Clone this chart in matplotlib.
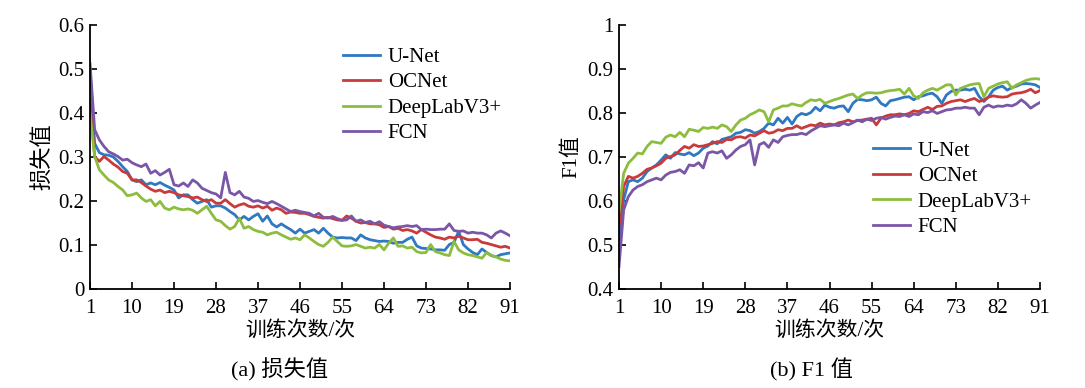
import matplotlib
matplotlib.use("Agg")
import matplotlib.pyplot as plt
from matplotlib.ticker import FixedLocator

epochs = list(range(1, 92))
series_names = ["U-Net", "OCNet", "DeepLabV3+", "FCN"]

loss_unet = [0.500, 0.331, 0.310, 0.305, 0.304, 0.300, 0.290, 0.278, 0.267, 0.248,
             0.244, 0.248, 0.237, 0.241, 0.237, 0.242, 0.236, 0.231, 0.225, 0.207,
             0.214, 0.214, 0.203, 0.195, 0.199, 0.203, 0.186, 0.189, 0.189, 0.184,
             0.176, 0.169, 0.157, 0.165, 0.157, 0.165, 0.171, 0.154, 0.166, 0.148,
             0.141, 0.148, 0.141, 0.135, 0.127, 0.136, 0.127, 0.131, 0.135, 0.127,
             0.138, 0.127, 0.118, 0.116, 0.117, 0.116, 0.116, 0.110, 0.123, 0.116,
             0.112, 0.110, 0.108, 0.109, 0.108, 0.104, 0.106, 0.106, 0.113, 0.118,
             0.098, 0.093, 0.092, 0.091, 0.089, 0.089, 0.088, 0.101, 0.106, 0.131,
             0.101, 0.091, 0.083, 0.078, 0.091, 0.083, 0.076, 0.073, 0.078, 0.080,
             0.082]
loss_ocnet = [0.430, 0.301, 0.290, 0.301, 0.293, 0.284, 0.277, 0.267, 0.263, 0.248,
              0.248, 0.242, 0.234, 0.227, 0.222, 0.225, 0.219, 0.222, 0.219, 0.214,
              0.212, 0.210, 0.207, 0.209, 0.203, 0.199, 0.203, 0.195, 0.195, 0.203,
              0.194, 0.186, 0.191, 0.194, 0.188, 0.186, 0.189, 0.184, 0.188, 0.179,
              0.184, 0.180, 0.172, 0.175, 0.174, 0.172, 0.172, 0.169, 0.165, 0.163,
              0.161, 0.163, 0.160, 0.157, 0.156, 0.166, 0.161, 0.154, 0.150, 0.151,
              0.148, 0.148, 0.146, 0.140, 0.142, 0.136, 0.138, 0.133, 0.135, 0.132,
              0.127, 0.135, 0.129, 0.123, 0.118, 0.116, 0.113, 0.118, 0.116, 0.120,
              0.116, 0.112, 0.112, 0.113, 0.106, 0.104, 0.101, 0.098, 0.095, 0.097,
              0.093]
loss_deeplab = [0.399, 0.301, 0.271, 0.259, 0.248, 0.242, 0.233, 0.225, 0.212, 0.214,
                0.218, 0.207, 0.199, 0.203, 0.189, 0.199, 0.184, 0.180, 0.186, 0.182,
                0.180, 0.182, 0.179, 0.172, 0.180, 0.188, 0.172, 0.157, 0.154, 0.144,
                0.136, 0.142, 0.161, 0.138, 0.142, 0.135, 0.131, 0.129, 0.123, 0.127,
                0.129, 0.123, 0.118, 0.113, 0.116, 0.112, 0.123, 0.116, 0.108, 0.101,
                0.097, 0.106, 0.118, 0.108, 0.098, 0.097, 0.098, 0.101, 0.097, 0.093,
                0.095, 0.093, 0.101, 0.089, 0.104, 0.116, 0.097, 0.098, 0.093, 0.095,
                0.085, 0.082, 0.083, 0.101, 0.085, 0.082, 0.078, 0.076, 0.108, 0.089,
                0.082, 0.078, 0.076, 0.073, 0.070, 0.083, 0.076, 0.073, 0.068, 0.065,
                0.064]
loss_fcn = [0.513, 0.362, 0.339, 0.324, 0.312, 0.307, 0.301, 0.293, 0.295, 0.287,
            0.282, 0.278, 0.284, 0.263, 0.269, 0.259, 0.265, 0.272, 0.237, 0.234,
            0.241, 0.233, 0.248, 0.241, 0.229, 0.224, 0.219, 0.216, 0.207, 0.265,
            0.219, 0.214, 0.222, 0.209, 0.206, 0.199, 0.201, 0.197, 0.194, 0.199,
            0.194, 0.188, 0.182, 0.176, 0.179, 0.176, 0.174, 0.172, 0.166, 0.172,
            0.163, 0.161, 0.165, 0.160, 0.156, 0.157, 0.166, 0.154, 0.157, 0.151,
            0.154, 0.148, 0.153, 0.145, 0.142, 0.139, 0.141, 0.142, 0.144, 0.142,
            0.144, 0.135, 0.136, 0.135, 0.135, 0.136, 0.136, 0.148, 0.133, 0.131,
            0.132, 0.127, 0.129, 0.127, 0.127, 0.123, 0.116, 0.127, 0.132, 0.127,
            0.121]

f1_unet = [0.512, 0.603, 0.644, 0.648, 0.644, 0.652, 0.667, 0.675, 0.682, 0.693,
           0.705, 0.697, 0.710, 0.707, 0.705, 0.710, 0.703, 0.709, 0.720, 0.725,
           0.735, 0.730, 0.740, 0.743, 0.746, 0.754, 0.756, 0.762, 0.760, 0.754,
           0.758, 0.765, 0.777, 0.773, 0.788, 0.777, 0.790, 0.775, 0.792, 0.799,
           0.796, 0.801, 0.813, 0.805, 0.818, 0.813, 0.811, 0.815, 0.816, 0.803,
           0.822, 0.831, 0.830, 0.828, 0.830, 0.836, 0.822, 0.816, 0.828, 0.830,
           0.833, 0.836, 0.837, 0.830, 0.837, 0.839, 0.843, 0.845, 0.837, 0.822,
           0.841, 0.849, 0.852, 0.852, 0.854, 0.852, 0.856, 0.837, 0.826, 0.837,
           0.852, 0.858, 0.861, 0.852, 0.858, 0.861, 0.866, 0.867, 0.866, 0.864,
           0.858]
f1_ocnet = [0.542, 0.633, 0.656, 0.652, 0.656, 0.663, 0.672, 0.675, 0.680, 0.686,
            0.697, 0.701, 0.705, 0.715, 0.724, 0.720, 0.728, 0.724, 0.725, 0.728,
            0.731, 0.735, 0.733, 0.740, 0.739, 0.745, 0.746, 0.743, 0.750, 0.748,
            0.754, 0.760, 0.754, 0.756, 0.762, 0.760, 0.765, 0.765, 0.771, 0.765,
            0.769, 0.773, 0.771, 0.777, 0.773, 0.775, 0.773, 0.778, 0.780, 0.784,
            0.780, 0.783, 0.784, 0.786, 0.788, 0.773, 0.788, 0.793, 0.796, 0.796,
            0.798, 0.796, 0.799, 0.805, 0.803, 0.808, 0.813, 0.808, 0.815, 0.816,
            0.822, 0.826, 0.828, 0.830, 0.826, 0.830, 0.833, 0.826, 0.830, 0.836,
            0.839, 0.837, 0.836, 0.837, 0.843, 0.845, 0.846, 0.849, 0.854, 0.846,
            0.851]
f1_deeplab = [0.575, 0.663, 0.686, 0.697, 0.709, 0.707, 0.724, 0.735, 0.733, 0.731,
              0.745, 0.750, 0.746, 0.756, 0.746, 0.763, 0.761, 0.758, 0.767, 0.765,
              0.768, 0.765, 0.773, 0.769, 0.758, 0.773, 0.784, 0.788, 0.796, 0.801,
              0.807, 0.803, 0.780, 0.807, 0.811, 0.816, 0.816, 0.821, 0.818, 0.816,
              0.824, 0.830, 0.828, 0.831, 0.822, 0.826, 0.830, 0.833, 0.837, 0.841,
              0.843, 0.833, 0.841, 0.846, 0.846, 0.845, 0.846, 0.849, 0.851, 0.852,
              0.854, 0.843, 0.856, 0.839, 0.833, 0.846, 0.852, 0.856, 0.852, 0.858,
              0.864, 0.864, 0.841, 0.856, 0.860, 0.864, 0.866, 0.867, 0.837, 0.856,
              0.861, 0.866, 0.869, 0.871, 0.856, 0.864, 0.869, 0.874, 0.877, 0.878,
              0.877]
f1_fcn = [0.451, 0.580, 0.610, 0.625, 0.633, 0.637, 0.644, 0.648, 0.652, 0.648,
          0.659, 0.665, 0.667, 0.671, 0.663, 0.682, 0.680, 0.687, 0.675, 0.709,
          0.712, 0.709, 0.714, 0.697, 0.705, 0.716, 0.724, 0.728, 0.739, 0.682,
          0.728, 0.733, 0.722, 0.739, 0.733, 0.746, 0.749, 0.751, 0.751, 0.754,
          0.751, 0.759, 0.765, 0.771, 0.769, 0.771, 0.773, 0.771, 0.777, 0.773,
          0.778, 0.784, 0.780, 0.786, 0.783, 0.788, 0.790, 0.786, 0.790, 0.793,
          0.792, 0.796, 0.792, 0.798, 0.796, 0.803, 0.801, 0.805, 0.799, 0.803,
          0.807, 0.808, 0.811, 0.811, 0.813, 0.811, 0.811, 0.796, 0.813, 0.818,
          0.813, 0.816, 0.815, 0.818, 0.816, 0.821, 0.830, 0.822, 0.811, 0.818,
          0.824]

x_ticks = [1, 10, 19, 28, 37, 46, 55, 64, 73, 82, 91]
loss_yticks = [0, 0.1, 0.2, 0.3, 0.4, 0.5, 0.6]
loss_ylabels = ["0", "0.1", "0.2", "0.3", "0.4", "0.5", "0.6"]
f1_yticks = [0.4, 0.5, 0.6, 0.7, 0.8, 0.9, 1.0]
f1_ylabels = ["0.4", "0.5", "0.6", "0.7", "0.8", "0.9", "1"]

colors = ["#2f78c2", "#c93a3b", "#8dbd3e", "#7a56a6"]
serif = ["Liberation Serif", "DejaVu Serif"]
cjk = ["Liberation Serif", "Noto Sans CJK SC", "DejaVu Sans"]

fig = plt.figure(figsize=(10.85, 3.88), dpi=100)
ax1 = fig.add_axes([90 / 1085, 1 - 289 / 388, 420 / 1085, 264 / 388])
ax2 = fig.add_axes([619 / 1085, 1 - 289 / 388, 421 / 1085, 264 / 388])

loss_data = [loss_unet, loss_ocnet, loss_deeplab, loss_fcn]
f1_data = [f1_unet, f1_ocnet, f1_deeplab, f1_fcn]

for ax, data, yt, yl, ylim in [
    (ax1, loss_data, loss_yticks, loss_ylabels, (0, 0.6)),
    (ax2, f1_data, f1_yticks, f1_ylabels, (0.4, 1.0)),
]:
    for vals, c, name in zip(data, colors, series_names):
        ax.plot(epochs, vals, color=c, lw=2.0, label=name, solid_joinstyle="round")
    ax.set_xlim(1, 91)
    ax.set_ylim(*ylim)
    ax.xaxis.set_major_locator(FixedLocator(x_ticks))
    ax.set_xticklabels([str(t) for t in x_ticks], fontfamily=serif, fontsize=15)
    ax.yaxis.set_major_locator(FixedLocator(yt))
    ax.set_yticklabels(yl, fontfamily=serif, fontsize=15)
    ax.tick_params(direction="in", length=5, width=1.2, pad=4, colors="black")
    ax.tick_params(axis="x", pad=7)
    for s in ["top", "right"]:
        ax.spines[s].set_visible(False)
    for s in ["left", "bottom"]:
        ax.spines[s].set_linewidth(1.3)
        ax.spines[s].set_color("black")
    ax.set_xlabel("训练次数/次", fontfamily=cjk, fontsize=15, labelpad=2)

ax1.set_ylabel("损失值", fontfamily=cjk, fontsize=16, labelpad=4)
ax2.set_ylabel("F1值", fontfamily=cjk, fontsize=15, labelpad=4)

leg_kw = dict(frameon=False, prop={"family": serif, "size": 15}, handlelength=1.8,
              handletextpad=0.35, labelspacing=0.28, borderaxespad=0, borderpad=0)
ax1.legend(loc="upper left", bbox_to_anchor=(0.602, 0.915), **leg_kw)
ax2.legend(loc="upper left", bbox_to_anchor=(0.603, 0.56), **leg_kw)

fig.text(280 / 1085, 1 - 370 / 388, "(a) 损失值", ha="center", va="center",
         fontfamily=cjk, fontsize=16)
fig.text(812 / 1085, 1 - 370 / 388, "(b) F1 值", ha="center", va="center",
         fontfamily=cjk, fontsize=16)

fig.savefig("out.png", dpi=100)
